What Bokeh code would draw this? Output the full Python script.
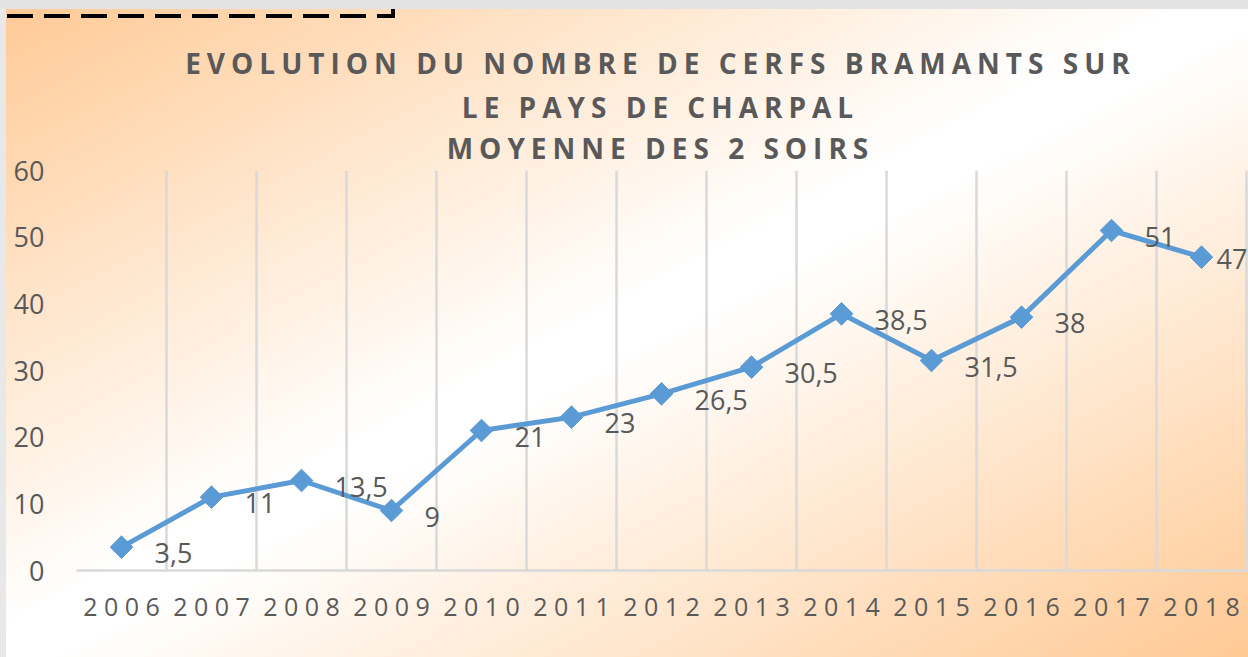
import math
from bokeh.plotting import figure
from bokeh.layouts import column
from bokeh.models import Range1d, FixedTicker, ColumnDataSource, CDSView, IndexFilter
from bokeh.core.properties import value
from bokeh.embed import file_html
from bokeh.resources import INLINE

# ---- data ----
years = ["2006", "2007", "2008", "2009", "2010", "2011", "2012",
         "2013", "2014", "2015", "2016", "2017", "2018"]
counts = [3.5, 11, 13.5, 9, 21, 23, 26.5, 30.5, 38.5, 31.5, 38, 51, 47]
count_labels = ["3,5", "11", "13,5", "9", "21", "23", "26,5",
                "30,5", "38,5", "31,5", "38", "51", "47"]
y_ticks = [0, 10, 20, 30, 40, 50, 60]
title_lines = ["EVOLUTION DU NOMBRE DE CERFS BRAMANTS SUR",
               "LE PAYS DE CHARPAL",
               "MOYENNE DES 2 SOIRS"]

FONT = "Open Sans"
GREY = "#595959"
BLUE = "#5B9BD5"
GRID = "#D9D9D9"
W = 1248
H = 657
TH = 178           # title strip height
MAIN_TOP = 140     # page y where the main figure starts (overlaps title strip)
OV = TH - MAIN_TOP
MH = H - MAIN_TOP  # main figure height
ML = 76            # frame left (px)
FW = W - ML        # frame width
LS = 6             # title letter spacing (px)

# ---- title figure (frame aligned with main frame) ----
t = figure(width=W, height=TH, x_range=Range1d(0, FW), y_range=Range1d(TH, 0),
           output_backend="svg", toolbar_location=None,
           x_axis_location=None, y_axis_location=None,
           min_border_left=ML, min_border_right=0,
           min_border_top=0, min_border_bottom=0)
t.grid.visible = False
t.outline_line_color = None
t.background_fill_alpha = 0
t.border_fill_alpha = 0
t.styles = {"letter-spacing": f"{LS}px"}

tsrc = ColumnDataSource(dict(
    text=title_lines,
    x=[FW / 2 - 5] * 3,
    y=[62, 106, 147],
    dx=[-(len(s) - 1) * LS / 2 for s in title_lines],
))
t.text(x="x", y="y", text="text", x_offset="dx", source=tsrc,
       text_align="center", text_baseline="alphabetic",
       text_font=value(FONT), text_font_style="bold",
       text_font_size="28px", text_color=GREY)

# ---- main figure ----
xs = list(range(len(years)))
src = ColumnDataSource(dict(x=xs, y=counts, lab=count_labels))

p = figure(width=W, height=MH,
           x_range=Range1d(-0.5, -0.5 + FW / 90.0), y_range=Range1d(0, 60),
           output_backend="svg", toolbar_location=None,
           min_border_left=ML, min_border_right=0,
           min_border_top=170 - MAIN_TOP, min_border_bottom=H - 570)
p.background_fill_alpha = 0
p.border_fill_alpha = 0
p.outline_line_color = None
p.styles = {"margin-top": f"-{OV}px"}

p.xaxis.ticker = FixedTicker(ticks=xs)
p.xaxis.major_label_overrides = {i: " ".join(y) for i, y in zip(xs, years)}
p.xaxis.axis_line_color = GRID
p.xaxis.axis_line_width = 2.5
p.xaxis.major_tick_line_color = None
p.xaxis.major_tick_out = 0
p.xaxis.major_tick_in = 0
p.xaxis.minor_tick_line_color = None
p.xaxis.major_label_standoff = 18
p.xaxis.major_label_text_font = FONT
p.xaxis.major_label_text_font_size = "25px"
p.xaxis.major_label_text_color = GREY

p.yaxis.ticker = FixedTicker(ticks=y_ticks)
p.yaxis.axis_line_color = None
p.yaxis.major_tick_line_color = None
p.yaxis.major_tick_out = 0
p.yaxis.major_tick_in = 0
p.yaxis.minor_tick_line_color = None
p.yaxis.major_label_standoff = 32
p.yaxis.major_label_text_font = FONT
p.yaxis.major_label_text_font_size = "27px"
p.yaxis.major_label_text_color = GREY

p.xgrid.ticker = FixedTicker(ticks=[i - 0.5 for i in range(len(years) + 1)])
p.xgrid.grid_line_color = GRID
p.xgrid.grid_line_width = 2.5
p.ygrid.grid_line_color = None

p.line(x="x", y="y", source=src, line_color=BLUE, line_width=5)
p.scatter(x="x", y="y", source=src, marker="square", angle=math.pi / 4,
          size=16, fill_color=BLUE, line_color=BLUE)

last = len(xs) - 1
lab_style = dict(text_align="left", text_baseline="middle",
                 text_font=value(FONT), text_font_size="27px", text_color=GREY)
p.text(x="x", y="y", text="lab", source=src,
       view=CDSView(filter=IndexFilter(list(range(last)))),
       x_offset=33, y_offset=6, **lab_style)
p.text(x="x", y="y", text="lab", source=src,
       view=CDSView(filter=IndexFilter([last])),
       x_offset=15, y_offset=2, **lab_style)

layout = column(t, p, spacing=0, styles={
    "background-image": ", ".join([
        "linear-gradient(#000, #000)",
        "repeating-linear-gradient(to right, #000 0px, #000 26px, transparent 26px, transparent 37px)",
        "linear-gradient(to bottom right, #FFC994 0%, #FFFFFF 48%, #FFFFFF 52%, #FFC994 100%)",
    ]),
    "background-size": "4px 18px, 386px 4px, 100% 100%",
    "background-position": "391px 0px, 7px 14px, 0px 0px",
    "background-repeat": "no-repeat",
    "box-shadow": "inset 0 9px 0 #E3E3E3, inset 6px 0 0 #E8E8E8",
})

open("out.html", "w").write(file_html(layout, INLINE))
